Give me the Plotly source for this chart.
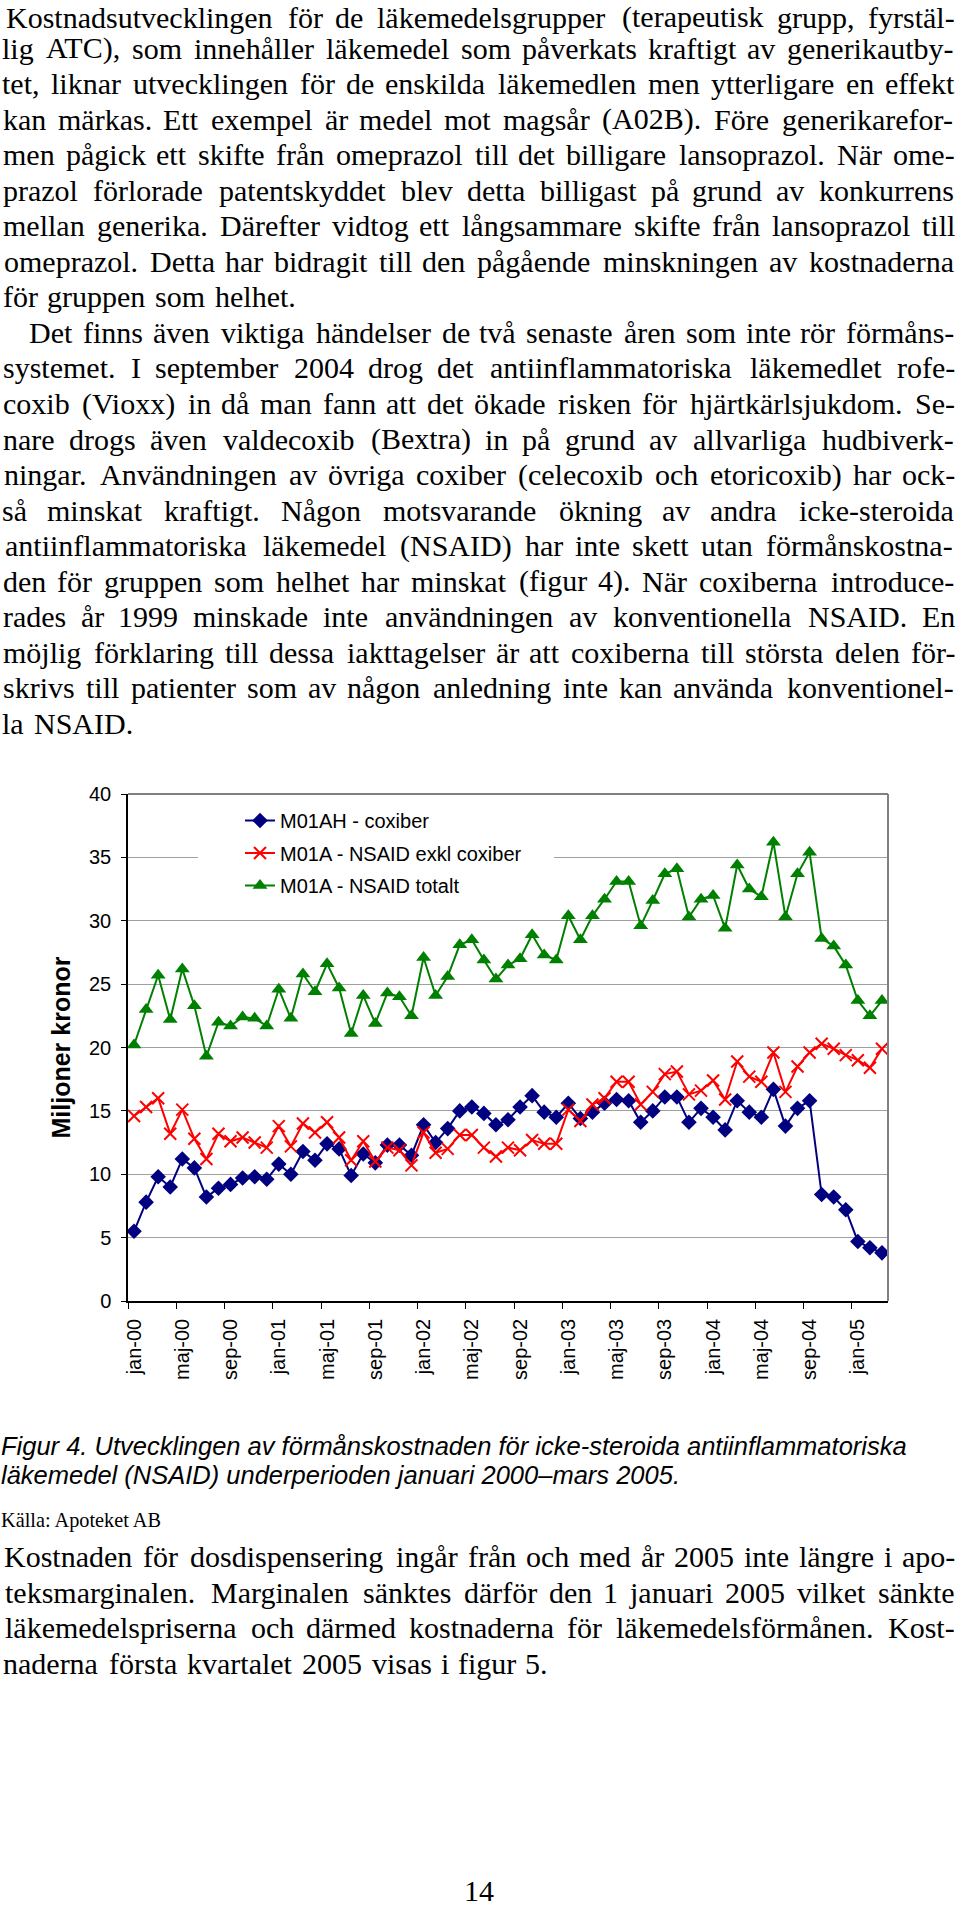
import plotly.graph_objects as go

# ---------------- data ----------------
month_names = ["jan", "feb", "mar", "apr", "maj", "jun", "jul", "aug", "sep", "okt", "nov", "dec"]
years = ["00", "01", "02", "03", "04", "05"]
months = [f"{m}-{y}" for y in years for m in month_names][:63]

coxiber = [5.5, 7.8, 9.8, 9.0, 11.2, 10.5, 8.2, 8.9, 9.2, 9.7, 9.8, 9.6, 10.8, 10.0, 11.8, 11.1,
           12.4, 12.0, 9.9, 11.6, 10.9, 12.3, 12.3, 11.5, 13.9, 12.5, 13.6, 15.0, 15.3, 14.8, 13.9,
           14.3, 15.3, 16.2, 14.9, 14.5, 15.6, 14.4, 14.9, 15.6, 15.9, 15.8, 14.1, 15.0, 16.1, 16.1,
           14.1, 15.2, 14.5, 13.5, 15.8, 14.9, 14.5, 16.7, 13.8, 15.2, 15.8, 8.4, 8.2, 7.2, 4.7, 4.2, 3.8]
nsaid_exkl = [14.6, 15.3, 16.0, 13.2, 15.1, 12.8, 11.2, 13.2, 12.6, 12.9, 12.5, 12.1, 13.8, 12.2, 14.0,
              13.3, 14.1, 12.9, 11.1, 12.6, 11.0, 12.1, 11.9, 10.7, 13.3, 11.7, 12.0, 13.1, 13.1, 12.1,
              11.4, 12.1, 11.9, 12.7, 12.4, 12.4, 15.1, 14.2, 15.5, 16.0, 17.3, 17.3, 15.5, 16.5, 17.9,
              18.1, 16.3, 16.6, 17.4, 15.9, 18.9, 17.7, 17.3, 19.6, 16.5, 18.5, 19.6, 20.3, 19.9, 19.4,
              19.0, 18.4, 19.9]
nsaid_tot = [20.2, 23.0, 25.7, 22.2, 26.2, 23.3, 19.3, 22.0, 21.7, 22.4, 22.3, 21.7, 24.6, 22.3, 25.8,
             24.4, 26.6, 24.7, 21.1, 24.1, 21.9, 24.3, 24.0, 22.5, 27.1, 24.1, 25.6, 28.1, 28.5, 26.9,
             25.4, 26.5, 27.0, 28.9, 27.3, 26.9, 30.4, 28.5, 30.4, 31.7, 33.1, 33.1, 29.6, 31.6, 33.7,
             34.1, 30.3, 31.7, 32.0, 29.4, 34.4, 32.5, 31.9, 36.2, 30.3, 33.7, 35.4, 28.6, 28.0, 26.5,
             23.7, 22.5, 23.7]
series_names = ["M01AH - coxiber", "M01A - NSAID exkl coxiber", "M01A - NSAID totalt"]
y_axis_title = "Miljoner kronor"

para1 = [
    "Kostnadsutvecklingen för de läkemedelsgrupper (terapeutisk grupp, fyrstäl-",
    "lig ATC), som innehåller läkemedel som påverkats kraftigt av generikautby-",
    "tet, liknar utvecklingen för de enskilda läkemedlen men ytterligare en effekt",
    "kan märkas. Ett exempel är medel mot magsår (A02B). Före generikarefor-",
    "men pågick ett skifte från omeprazol till det billigare lansoprazol. När ome-",
    "prazol förlorade patentskyddet blev detta billigast på grund av konkurrens",
    "mellan generika. Därefter vidtog ett långsammare skifte från lansoprazol till",
    "omeprazol. Detta har bidragit till den pågående minskningen av kostnaderna",
    "för gruppen som helhet.",
]
para2 = [
    "Det finns även viktiga händelser de två senaste åren som inte rör förmåns-",
    "systemet. I september 2004 drog det antiinflammatoriska läkemedlet rofe-",
    "coxib (Vioxx) in då man fann att det ökade risken för hjärtkärlsjukdom. Se-",
    "nare drogs även valdecoxib (Bextra) in på grund av allvarliga hudbiverk-",
    "ningar. Användningen av övriga coxiber (celecoxib och etoricoxib) har ock-",
    "så minskat kraftigt. Någon motsvarande ökning av andra icke-steroida",
    "antiinflammatoriska läkemedel (NSAID) har inte skett utan förmånskostna-",
    "den för gruppen som helhet har minskat (figur 4). När coxiberna introduce-",
    "rades år 1999 minskade inte användningen av konventionella NSAID. En",
    "möjlig förklaring till dessa iakttagelser är att coxiberna till största delen för-",
    "skrivs till patienter som av någon anledning inte kan använda konventionel-",
    "la NSAID.",
]
caption = [
    "Figur 4. Utvecklingen av förmånskostnaden för icke-steroida antiinflammatoriska",
    "läkemedel (NSAID) underperioden januari 2000–mars 2005.",
]
source = "Källa: Apoteket AB"
para3 = [
    "Kostnaden för dosdispensering ingår från och med år 2005 inte längre i apo-",
    "teksmarginalen. Marginalen sänktes därför den 1 januari 2005 vilket sänkte",
    "läkemedelspriserna och därmed kostnaderna för läkemedelsförmånen. Kost-",
    "naderna första kvartalet 2005 visas i figur 5.",
]
page_number = "14"

# ---------------- geometry (page pixel coordinates) ----------------
W, H = 960, 1910
PL, PR, PT, PB = 128, 888, 794, 1301   # plot area in page pixels


def px(x):
    return (x - PL) / (PR - PL)


def py(y):
    return (PB - y) / (PB - PT)


TIMES = {' ': 250, '(': 333, ')': 333, ',': 250, '-': 333, '.': 250, ':': 278, '–': 500,
         'A': 722, 'B': 667, 'C': 667, 'D': 722, 'E': 611, 'F': 556, 'G': 722, 'H': 722, 'I': 333,
         'J': 389, 'K': 722, 'L': 611, 'M': 889, 'N': 722, 'O': 722, 'P': 556, 'Q': 722, 'R': 667,
         'S': 556, 'T': 611, 'U': 722, 'V': 722, 'W': 944, 'X': 722, 'Y': 722, 'Z': 611,
         'a': 444, 'b': 500, 'c': 444, 'd': 500, 'e': 444, 'f': 333, 'g': 500, 'h': 500, 'i': 278,
         'j': 278, 'k': 500, 'l': 278, 'm': 778, 'n': 500, 'o': 500, 'p': 500, 'q': 500, 'r': 333,
         's': 389, 't': 278, 'u': 500, 'v': 500, 'w': 722, 'x': 500, 'y': 500, 'z': 444,
         'å': 444, 'ä': 444, 'ö': 500, 'Å': 722, 'Ä': 722, 'Ö': 722}


def tw(s):
    return sum(TIMES.get(c, 500) for c in s) / 1000.0


SERIF = "Liberation Serif, Times New Roman, serif"
SANS = "Liberation Sans, Arial, sans-serif"
LAYOUT_FS = 30.9
RENDER_FS = 30.0
X0, X1 = 2.0, 956.0
LINE_STEP = 35.55

annotations = []


def add_text(text, x, y_center, size, family, anchor="center", color="black"):
    annotations.append(dict(text=text, x=px(x), y=py(y_center), xref="paper", yref="paper",
                            xanchor=anchor, yanchor="middle", showarrow=False, borderpad=0,
                            font=dict(family=family, size=size, color=color)))


def place_line(line, baseline, justify, indent=0.0):
    words = line.split(" ")
    widths = [tw(w) * LAYOUT_FS for w in words]
    x0 = X0 + indent
    if justify and len(words) > 1:
        gap = (X1 - x0 - sum(widths)) / (len(words) - 1)
    else:
        gap = 0.25 * LAYOUT_FS
    x = x0
    for w, wd in zip(words, widths):
        add_text(w, x + wd / 2, baseline - 0.34 * RENDER_FS, RENDER_FS, SERIF)
        x += wd + gap


base = 22.7
k = 0
for i, line in enumerate(para1):
    bl = base + k * LINE_STEP
    if k == 0:
        bl = 27.5          # keep the first line's text box inside the page
    place_line(line, bl, i < len(para1) - 1)
    k += 1
for i, line in enumerate(para2):
    place_line(line, base + k * LINE_STEP, i < len(para2) - 1, indent=27 if i == 0 else 0)
    k += 1

for i, line in enumerate(caption):
    add_text("<i>" + line + "</i>", 0, 1454 + i * 29.5 - 0.33 * 25.5, 25.5, SANS, anchor="left")
add_text(source, 0, 1527 - 0.34 * 20.3, 20.3, SERIF, anchor="left")

for i, line in enumerate(para3):
    place_line(line, 1567 + i * LINE_STEP, i < len(para3) - 1)

add_text(page_number, 479, 1890, 30, SERIF)

# ---------------- figure ----------------
fig = go.Figure()
fig.add_trace(go.Scatter(
    x=months, y=coxiber, name=series_names[0], mode="lines+markers", legendgroup="g1",
    line=dict(color="#000080", width=2),
    marker=dict(symbol="diamond", size=12, color="#000080")))
fig.add_trace(go.Scatter(
    x=months, y=nsaid_exkl, name=series_names[1], mode="lines+markers", legendgroup="g2",
    line=dict(color="#FF0000", width=2),
    marker=dict(symbol="x-thin", size=12, color="#FF0000", line=dict(color="#FF0000", width=2))))
fig.add_trace(go.Scatter(
    x=months, y=nsaid_tot, name=series_names[2], mode="lines+markers", legendgroup="g3",
    line=dict(color="#008000", width=2),
    marker=dict(symbol="triangle-up", size=13, color="#008000")))

shapes = [
    dict(type="rect", xref="paper", yref="paper", x0=px(198), x1=px(554), y0=py(905), y1=py(803),
         fillcolor="white", line=dict(width=0), layer="above"),
    dict(type="line", xref="paper", yref="paper", x0=0, x1=1, y0=1, y1=1,
         line=dict(color="#808080", width=2)),
    dict(type="line", xref="paper", yref="paper", x0=1, x1=1, y0=0, y1=1,
         line=dict(color="#808080", width=2)),
]

fig.update_layout(
    width=W, height=H, autosize=False,
    margin=dict(l=PL, r=W - PR, t=PT, b=H - PB, pad=0),
    paper_bgcolor="white", plot_bgcolor="white",
    font=dict(family=SANS, size=20, color="black"),
    showlegend=True,
    legend=dict(x=px(240), y=py(801), xanchor="left", yanchor="top",
                bgcolor="white", borderwidth=0, tracegroupgap=3.5,
                font=dict(family=SANS, size=20, color="black")),
    xaxis=dict(type="category", categoryorder="array", categoryarray=months,
               range=[-0.5, 62.5], tickmode="linear", tick0=0, dtick=4,
               tickson="boundaries", ticks="outside", ticklen=6, tickcolor="black",
               tickangle=-90, showgrid=False, zeroline=False,
               showline=True, linecolor="black", linewidth=1.5,
               tickfont=dict(family=SANS, size=20, color="black"), ticklabelstandoff=8),
    yaxis=dict(range=[0, 40], tickmode="linear", tick0=0, dtick=5,
               showgrid=True, gridcolor="#A0A0A0", gridwidth=1, zeroline=False,
               ticks="outside", ticklen=5, tickcolor="black",
               showline=True, linecolor="black", linewidth=1.5,
               tickfont=dict(family=SANS, size=20, color="black"), ticklabelstandoff=6,
               title=dict(text="<b>" + y_axis_title + "</b>", standoff=11,
                          font=dict(family=SANS, size=25, color="black"))),
    shapes=shapes,
    annotations=annotations,
)

# remove the browser's default 8px body margin so the page maps 1:1 onto the figure
fig.write_html("out.html",
               config={"displayModeBar": False},
               post_script="document.body.style.margin='0px';"
                           "document.documentElement.style.overflow='hidden';")
